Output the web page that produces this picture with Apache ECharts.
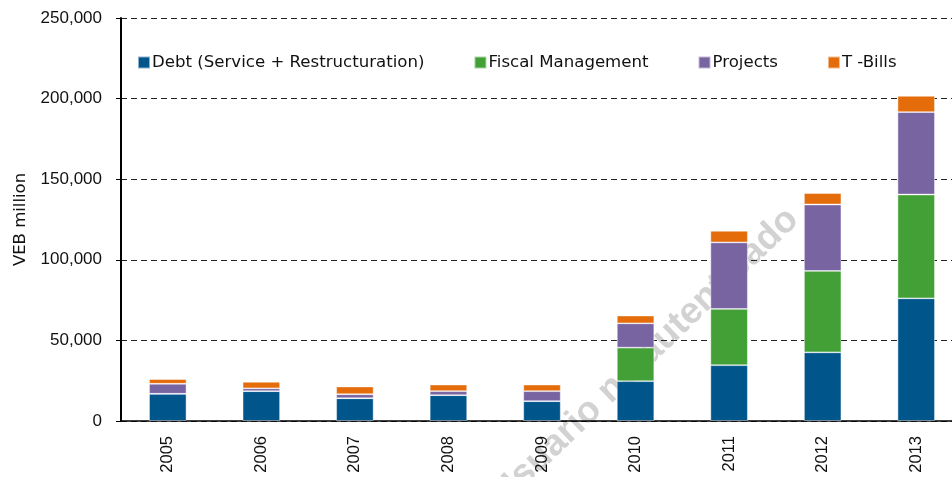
<!DOCTYPE html>
<html>
<head>
<meta charset="utf-8">
<script src="https://cdn.jsdelivr.net/npm/echarts@6/dist/echarts.min.js"></script>
<style>
  html, body { margin:0; padding:0; background:#fff; overflow:hidden; }
  #chart { width:966px; height:477px; }
</style>
</head>
<body>
<div id="chart"></div>
<script>
// values in VEB million
var years = ['2005','2006','2007','2008','2009','2010','2011','2012','2013'];
var debt = [16900, 18500, 14100, 16000, 12300, 24700, 34600, 42600, 76100];
var fiscal = [0, 0, 0, 0, 0, 20800, 34900, 50500, 64400];
var projects = [6200, 1800, 2500, 2500, 6200, 15100, 41300, 41200, 51100];
var tbills = [2900, 4000, 4800, 4100, 4100, 4800, 7200, 7100, 10100];
var yTicks = [0, 50000, 100000, 150000, 200000, 250000];

var chart = echarts.init(document.getElementById('chart'));
var font = 'Liberation Sans, Arial, sans-serif';
var wide = 'DejaVu Sans, sans-serif';

function bar(name, data, color) {
    return {
        name: name,
        type: 'bar',
        stack: 'total',
        barWidth: '40%',
        data: data,
        itemStyle: { color: color, borderColor: 'rgba(255,255,255,0.55)', borderWidth: 0.8 }
    };
}

var option = {
    animation: false,
    textStyle: { fontFamily: font },
    grid: { left: 121, top: 18, width: 842, height: 403, containLabel: false },
    legend: {
        left: 132,
        top: 49,
        itemWidth: 12,
        itemHeight: 12,
        itemGap: 49,
        icon: 'rect',
        textStyle: { fontSize: 16.6, color: '#111', fontFamily: wide, padding: [0, 0, 0, -3] },
        data: ['Debt (Service + Restructuration)', 'Fiscal Management', 'Projects', 'T -Bills']
    },
    graphic: [{
        type: 'text',
        z: -10,
        x: 645,
        y: 357,
        rotation: 44 * Math.PI / 180,
        style: {
            text: 'Usuario no autenticado',
            font: 'bold 37px ' + font,
            fill: '#d2d2d2',
            align: 'center',
            verticalAlign: 'middle'
        }
    }],
    xAxis: {
        type: 'category',
        data: years,
        axisLine: { lineStyle: { color: '#000', width: 1.5 } },
        axisTick: { show: false },
        axisLabel: { rotate: 90, fontSize: 16.5, color: '#111', margin: 15, fontFamily: font }
    },
    yAxis: {
        type: 'value',
        min: yTicks[0],
        max: yTicks[yTicks.length - 1],
        interval: 50000,
        name: 'VEB million',
        nameLocation: 'middle',
        nameGap: 92,
        nameTextStyle: { fontSize: 16.5, color: '#111', fontFamily: wide },
        axisLine: { show: true, lineStyle: { color: '#000', width: 2 } },
        axisTick: { show: true, length: 5, lineStyle: { color: '#000' } },
        axisLabel: {
            fontSize: 17, color: '#111', margin: 19, fontFamily: font,
            formatter: function (v) { return v.toLocaleString('en-US'); }
        },
        splitLine: { show: true, lineStyle: { color: '#222', type: [6, 4], width: 1 } }
    },
    series: [
        bar('Debt (Service + Restructuration)', debt, '#00558B'),
        bar('Fiscal Management', fiscal, '#42A036'),
        bar('Projects', projects, '#7964A2'),
        bar('T -Bills', tbills, '#E46C0A')
    ]
};
chart.setOption(option);
</script>
</body>
</html>
